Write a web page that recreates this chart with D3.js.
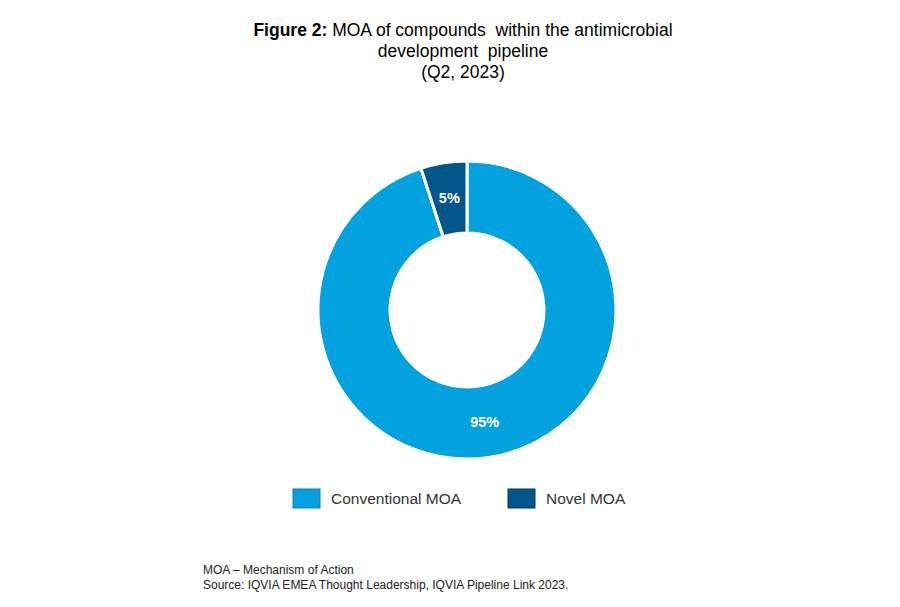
<!DOCTYPE html>
<html>
<head>
<meta charset="utf-8">
<script src="https://cdn.jsdelivr.net/npm/d3@7/dist/d3.min.js"></script>
<style>
  body { margin: 0; background: #fff; }
  text { font-family: "Liberation Sans", Arial, sans-serif; }
</style>
</head>
<body>
<script>
// data
var categories = ["Conventional MOA", "Novel MOA"];
var shares = [95, 5];
var colours = ["#03a1dd", "#03558a"];
var borders = ["#1a7fb0", "#033b63"];
var titleLines = ["development  pipeline", "(Q2, 2023)"];
var notes = ["MOA \u2013 Mechanism of Action",
             "Source: IQVIA EMEA Thought Leadership, IQVIA Pipeline Link 2023."];

var svg = d3.select("body").append("svg")
    .attr("width", 900)
    .attr("height", 607);

// title
var title = svg.append("text")
    .attr("x", 463).attr("y", 36)
    .attr("text-anchor", "middle")
    .attr("font-size", 17.5)
    .style("white-space", "pre");
title.append("tspan").attr("font-weight", "bold").text("Figure 2:");
title.append("tspan").text(" MOA of compounds  within the antimicrobial");

svg.selectAll(".sub")
  .data(titleLines)
  .enter().append("text")
    .attr("class", "sub")
    .attr("x", 463)
    .attr("y", function(d, i) { return 57 + i * 21; })
    .attr("text-anchor", "middle")
    .attr("font-size", 17.5)
    .style("white-space", "pre")
    .text(function(d) { return d; });

// donut
var color = d3.scaleOrdinal().domain(categories).range(colours);
var rows = categories.map(function(c, i) { return { name: c, value: shares[i] }; });

var pie = d3.pie().sort(null).value(function(d) { return d.value; });
var arc = d3.arc().innerRadius(77).outerRadius(149);

var g = svg.append("g").attr("transform", "translate(467,310)");

var slices = g.selectAll(".slice")
  .data(pie(rows))
  .enter().append("g").attr("class", "slice");

slices.append("path")
    .attr("d", arc)
    .attr("fill", function(d) { return color(d.data.name); })
    .attr("stroke", "#fff")
    .attr("stroke-width", 3);

slices.append("text")
    .attr("transform", function(d) { return "translate(" + arc.centroid(d) + ")"; })
    .attr("dy", "0.35em")
    .attr("text-anchor", "middle")
    .attr("font-size", 14.5)
    .attr("font-weight", "bold")
    .attr("fill", "#fff")
    .text(function(d) { return d.data.value + "%"; });

// legend
var legendX = [293, 508];
var legend = svg.selectAll(".legend")
  .data(categories)
  .enter().append("g")
    .attr("class", "legend")
    .attr("transform", function(d, i) { return "translate(" + legendX[i] + ",489)"; });

legend.append("rect")
    .attr("width", 27).attr("height", 19)
    .attr("fill", function(d) { return color(d); })
    .attr("stroke", function(d, i) { return borders[i]; })
    .attr("stroke-width", 1);

legend.append("text")
    .attr("x", 38).attr("y", 15)
    .attr("font-size", 15.5)
    .attr("fill", "#333")
    .text(function(d) { return d; });

// footnotes
svg.selectAll(".note")
  .data(notes)
  .enter().append("text")
    .attr("class", "note")
    .attr("x", 203)
    .attr("y", function(d, i) { return 574 + i * 15; })
    .attr("font-size", 12)
    .attr("fill", "#222")
    .text(function(d) { return d; });
</script>
</body>
</html>
